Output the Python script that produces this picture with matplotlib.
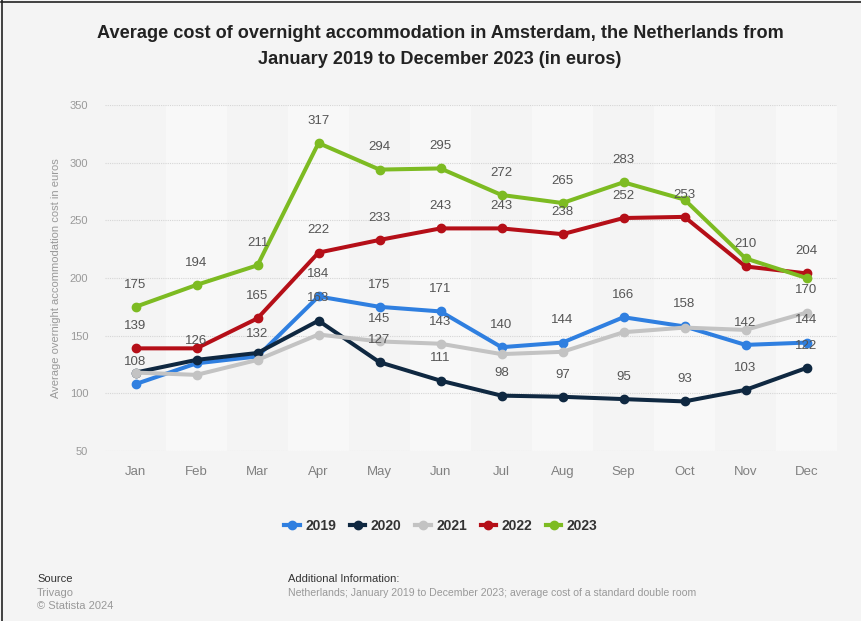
"""Average overnight accommodation cost in Amsterdam, 2019-2023."""

import matplotlib.pyplot as plt
from matplotlib.lines import Line2D

plt.rcParams["font.family"] = ["Liberation Sans", "DejaVu Sans"]

months = ["Jan", "Feb", "Mar", "Apr", "May", "Jun",
          "Jul", "Aug", "Sep", "Oct", "Nov", "Dec"]
years = ["2019", "2020", "2021", "2022", "2023"]

cost_2019 = [108, 126, 132, 184, 175, 171, 140, 144, 166, 158, 142, 144]
cost_2020 = [118, 129, 135, 163, 127, 111, 98, 97, 95, 93, 103, 122]
cost_2021 = [118, 116, 129, 151, 145, 143, 134, 136, 153, 157, 155, 170]
cost_2022 = [139, 139, 165, 222, 233, 243, 243, 238, 252, 253, 210, 204]
cost_2023 = [175, 194, 211, 317, 294, 295, 272, 265, 283, 268, 217, 200]

# months (index) where a value label is printed for each year
labelled_2019 = list(range(12))
labelled_2020 = [3, 4, 5, 6, 7, 8, 9, 10, 11]
labelled_2021 = [4, 5, 11]
labelled_2022 = [0, 2, 3, 4, 5, 6, 7, 8, 9, 10, 11]
labelled_2023 = [0, 1, 2, 3, 4, 5, 6, 7, 8]

series = [cost_2019, cost_2020, cost_2021, cost_2022, cost_2023]
labelled = [labelled_2019, labelled_2020, labelled_2021, labelled_2022, labelled_2023]
colors = ["#2f7fe0", "#0f2841", "#c3c3c3", "#b50f18", "#7dbb22"]

bg = "#f4f4f4"
fig = plt.figure(figsize=(8.62, 6.21), dpi=100, facecolor=bg)
ax = fig.add_axes([105 / 862, 1 - 451 / 621, 732 / 862, 346 / 621])
ax.set_facecolor(bg)

x = list(range(len(months)))

# alternating column shading
for i in x:
    if i % 2 == 1:
        ax.axvspan(i - 0.5, i + 0.5, color="#f8f8f8", zorder=0, lw=0)

for i, (vals, show, col) in enumerate(zip(series, labelled, colors)):
    ax.plot(x, vals, color=col, lw=2.9, marker="o", markersize=6,
            solid_capstyle="round", zorder=3 + i)
    for m in show:
        ax.annotate(str(vals[m]), (m, vals[m]), xytext=(0, 16),
                    textcoords="offset points", ha="center", va="center",
                    fontsize=9.5, color="#555555", zorder=10)

ax.set_xlim(-0.5, 11.5)
ax.set_ylim(50, 350)
ax.set_yticks(range(50, 351, 50))
ax.set_xticks(x)
ax.set_xticklabels(months)
ax.yaxis.grid(True, color="#d6d6d6", linestyle=(0, (1, 1)), lw=0.8, zorder=1)
ax.xaxis.grid(False)
for s in ax.spines.values():
    s.set_visible(False)
ax.tick_params(axis="both", length=0)
ax.tick_params(axis="y", labelsize=8, labelcolor="#999999", pad=12)
ax.tick_params(axis="x", labelsize=9.5, labelcolor="#808080", pad=11)
ax.set_ylabel("Average overnight accommodation cost in euros",
              fontsize=8, color="#999999", labelpad=6)

fig.text(440 / 862, 1 - 33 / 621,
         "Average cost of overnight accommodation in Amsterdam, the Netherlands from",
         ha="center", va="center", fontsize=13.1, fontweight="bold", color="#222222")
fig.text(440 / 862, 1 - 60 / 621, "January 2019 to December 2023 (in euros)",
         ha="center", va="center", fontsize=13.1, fontweight="bold", color="#222222")

handles = [Line2D([], [], color=c, lw=3, marker="o", markersize=6) for c in colors]
fig.legend(handles, years, loc="center", bbox_to_anchor=(441 / 862, 1 - 526 / 621),
           ncol=5, frameon=False, handlelength=1.1, handletextpad=0.4,
           columnspacing=1.0, prop={"weight": "bold", "size": 10},
           labelcolor="#333333")

fig.text(37 / 862, 1 - 579 / 621, "Source", fontsize=8, color="#333333", va="center")
fig.text(37 / 862, 1 - 593 / 621, "Trivago", fontsize=8, color="#999999", va="center")
fig.text(37 / 862, 1 - 606 / 621, "\u00a9 Statista 2024", fontsize=8, color="#999999",
         va="center")
fig.text(288 / 862, 1 - 579 / 621, "Additional Information:", fontsize=8,
         color="#333333", va="center")
fig.text(288 / 862, 1 - 593 / 621,
         "Netherlands; January 2019 to December 2023; average cost of a standard double room",
         fontsize=7.55, color="#999999", va="center")

# frame along the top and left edges
fig.add_artist(Line2D([1 / 862, 1], [1 - 2 / 621, 1 - 2 / 621], color="#222222", lw=1.2))
fig.add_artist(Line2D([2 / 862, 2 / 862], [0, 1], color="#222222", lw=1.2))

fig.savefig("out.png", dpi=100, facecolor=bg)
